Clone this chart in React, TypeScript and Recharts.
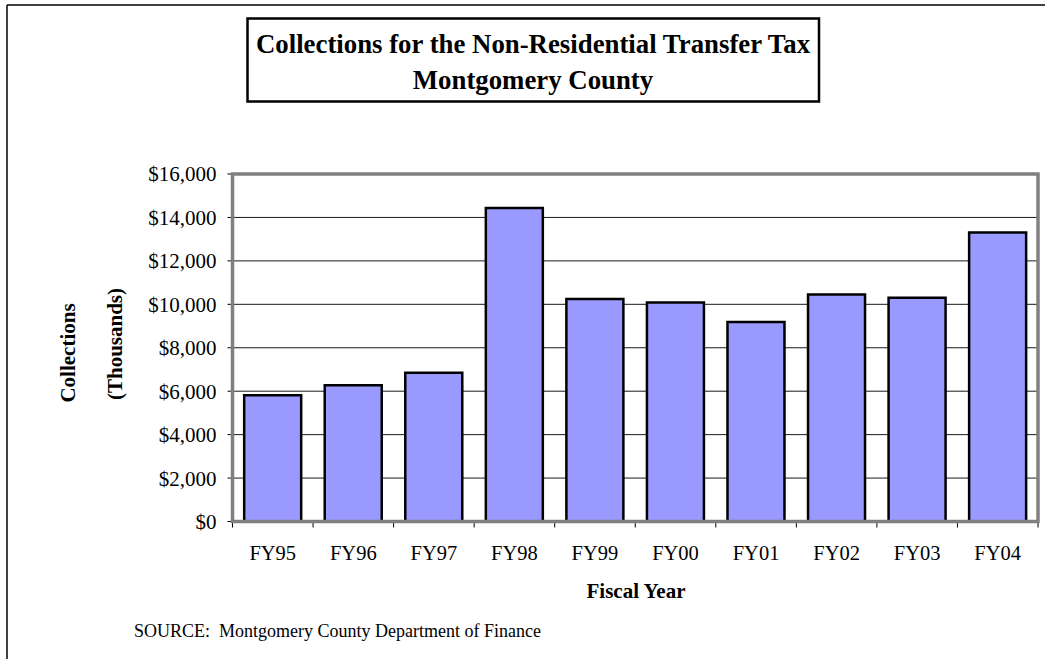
import React from 'react';
import { BarChart, Bar, XAxis, YAxis, CartesianGrid } from 'recharts';

// Fiscal years and collections (thousands of dollars)
const years = ['FY95', 'FY96', 'FY97', 'FY98', 'FY99', 'FY00', 'FY01', 'FY02', 'FY03', 'FY04'];
const collections = [5810, 6270, 6850, 14430, 10240, 10080, 9180, 10450, 10300, 13310];
const yTicks = [0, 2000, 4000, 6000, 8000, 10000, 12000, 14000, 16000];

const data = years.map((name, i) => ({ name, value: collections[i] }));

const W = 1045;
const H = 659;
const PLOT_LEFT = 232.5;
const PLOT_RIGHT = 1038;
const PLOT_TOP = 174;
const PLOT_BOTTOM = 521.5;
const Y_AXIS_W = 100;
const X_AXIS_H = 40;
const BAND = (PLOT_RIGHT - PLOT_LEFT) / years.length;
const FONT = "'Times New Roman', 'Liberation Serif', serif";

const money = (v: number) => '$' + v.toLocaleString('en-US');

const XTick = (props: any) => {
  const { x, payload, index } = props;
  const left = x - BAND / 2;
  return (
    <g>
      <line x1={left} x2={left} y1={PLOT_BOTTOM} y2={PLOT_BOTTOM + 6} stroke="#000" />
      {index === years.length - 1 && (
        <line x1={x + BAND / 2} x2={x + BAND / 2} y1={PLOT_BOTTOM} y2={PLOT_BOTTOM + 6} stroke="#000" />
      )}
      <text x={x} y={PLOT_BOTTOM + 38} textAnchor="middle" fontSize={20.5} fontFamily={FONT} fill="#000">
        {payload.value}
      </text>
    </g>
  );
};

const App: React.FC = () => {
  return (
    <div style={{ position: 'absolute', left: 0, top: 0, width: W, height: H, background: '#fff' }}>
      <BarChart
        width={W}
        height={H}
        data={data}
        margin={{ top: PLOT_TOP, right: W - PLOT_RIGHT, bottom: H - PLOT_BOTTOM - X_AXIS_H, left: PLOT_LEFT - Y_AXIS_W }}
        barCategoryGap="14.5%"
      >
        <CartesianGrid vertical={false} stroke="#1a1a1a" strokeWidth={1} />
        <XAxis dataKey="name" height={X_AXIS_H} axisLine={false} tickLine={false} tick={<XTick />} interval={0} />
        <YAxis
          width={Y_AXIS_W}
          domain={[0, 16000]}
          ticks={yTicks}
          tickFormatter={money}
          axisLine={false}
          tickLine={{ stroke: '#000' }}
          tickSize={5}
          tickMargin={11}
          tick={{ fontSize: 21, fontFamily: FONT, fill: '#000' }}
          interval={0}
        />
        <Bar dataKey="value" fill="#9999FF" stroke="#000" strokeWidth={2.5} isAnimationActive={false} />
      </BarChart>
      <svg width={W} height={H} style={{ position: 'absolute', left: 0, top: 0, pointerEvents: 'none' }}>
        {/* page frame */}
        <line x1={7} x2={W} y1={5} y2={5} stroke="#000" strokeWidth={1.5} />
        <line x1={7} x2={7} y1={5} y2={H} stroke="#000" strokeWidth={1.5} />
        {/* plot frame */}
        <rect
          x={PLOT_LEFT}
          y={PLOT_TOP}
          width={PLOT_RIGHT - PLOT_LEFT}
          height={PLOT_BOTTOM - PLOT_TOP}
          fill="none"
          stroke="#808080"
          strokeWidth={3.5}
        />
        {/* title box */}
        <rect x={247.5} y={18.5} width={571.5} height={83} fill="#fff" stroke="#000" strokeWidth={2.5} />
        <text x={533} y={53} textAnchor="middle" fontSize={26.8} fontWeight="bold" fontFamily={FONT} fill="#000">
          Collections for the Non-Residential Transfer Tax
        </text>
        <text x={533} y={89} textAnchor="middle" fontSize={26.8} fontWeight="bold" fontFamily={FONT} fill="#000">
          Montgomery County
        </text>
        {/* y axis title */}
        <text
          transform="translate(74.5,353) rotate(-90)"
          textAnchor="middle"
          fontSize={21}
          fontWeight="bold"
          fontFamily={FONT}
          fill="#000"
        >
          Collections
        </text>
        <text
          transform="translate(122,344) rotate(-90)"
          textAnchor="middle"
          fontSize={21}
          fontWeight="bold"
          fontFamily={FONT}
          fill="#000"
        >
          (Thousands)
        </text>
        {/* x axis title */}
        <text x={636} y={598} textAnchor="middle" fontSize={21} fontWeight="bold" fontFamily={FONT} fill="#000">
          Fiscal Year
        </text>
        <text x={134} y={637} fontSize={18} fontFamily={FONT} fill="#000" style={{ whiteSpace: 'pre' }}>
          {'SOURCE:  Montgomery County Department of Finance'}
        </text>
      </svg>
    </div>
  );
};

export default App;
